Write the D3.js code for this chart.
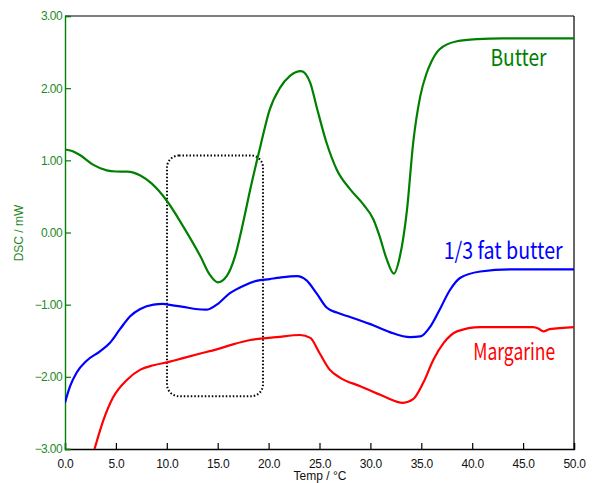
<!DOCTYPE html>
<html><head><meta charset="utf-8">
<script src="https://cdn.jsdelivr.net/npm/d3@7/dist/d3.min.js"></script>
<style>
html,body{margin:0;padding:0;background:#fff;}
svg{display:block;}
</style></head>
<body>
<svg id="chart" width="592" height="483"></svg>
<script>
const xTicks = [0,5,10,15,20,25,30,35,40,45,50];
const yTicks = [-3,-2,-1,0,1,2,3];

const butter = [[0,1.15],[0.7,1.13],[1.5,1.07],[2.75,0.94],[4.1,0.86],[5,0.845],[6.1,0.843],[7.4,0.79],[8.5,0.68],[10,0.44],[11.5,0.11],[13.3,-0.33],[14.2,-0.58],[15.0,-0.69],[15.9,-0.6],[16.7,-0.33],[17.5,0.14],[18.2,0.6],[19.2,1.2],[20.1,1.7],[21.1,2.0],[22.1,2.17],[23.2,2.235],[24.1,2.07],[24.7,1.75],[25.7,1.24],[26.7,0.87],[28.0,0.6],[29.3,0.39],[30.3,0.18],[30.9,-0.05],[31.6,-0.37],[32.3,-0.57],[32.9,-0.33],[33.6,0.32],[34.2,1.24],[34.9,1.89],[35.5,2.2],[36.0,2.37],[36.8,2.54],[38.5,2.65],[40.5,2.68],[43,2.69],[50,2.69]];

const fatButter = [[0,-2.36],[0.5,-2.13],[1.15,-1.94],[2.1,-1.78],[3.4,-1.65],[4.4,-1.53],[5.4,-1.34],[6.4,-1.16],[7.4,-1.06],[8.7,-1.0],[9.6,-0.99],[10.6,-1.01],[11.6,-1.03],[12.8,-1.06],[13.9,-1.07],[14.9,-1.0],[16.2,-0.84],[17.5,-0.74],[18.8,-0.67],[20.1,-0.645],[21.1,-0.625],[22.8,-0.605],[23.7,-0.66],[24.7,-0.84],[25.7,-1.04],[26.7,-1.11],[28,-1.17],[30,-1.27],[31.9,-1.38],[33.9,-1.45],[34.9,-1.44],[35.9,-1.30],[36.8,-1.07],[37.8,-0.80],[38.8,-0.63],[40.8,-0.54],[43.7,-0.51],[50,-0.51]];

const margarine = [[2.9,-3.0],[3.8,-2.59],[4.7,-2.29],[6.1,-2.04],[7.4,-1.90],[8.7,-1.84],[10.3,-1.79],[11.6,-1.74],[13.2,-1.68],[14.9,-1.62],[16.5,-1.55],[18.2,-1.49],[20.8,-1.45],[23.1,-1.42],[24.1,-1.46],[25,-1.67],[26,-1.90],[27,-2.01],[29,-2.13],[31.3,-2.27],[33.2,-2.36],[34.2,-2.31],[35.2,-2.08],[36.2,-1.76],[37.2,-1.53],[38.5,-1.37],[40.8,-1.31],[46.0,-1.31],[46.5,-1.33],[47.0,-1.37],[47.6,-1.34],[50,-1.31]];

const seriesNames = ["Butter","1/3 fat butter","Margarine"];
const seriesColors = ["#008000","#0000ff","#ff0000"];
// label anchor positions in data units [temp, value]
const labelPos = [[41.8,2.31],[37.2,-0.37],[40.1,-1.76]];
const labelWidths = [56,119,82];
// dotted annotation box in data units: [t0, t1, v0, v1]
const boxExtent = [10.02, 19.45, 1.067, -2.27];

const svg = d3.select("#chart");
const L=65, R=574, T=16, B=449;
const x = d3.scaleLinear().domain([0,50]).range([L,R]);
const y = d3.scaleLinear().domain([-3,3]).range([B,T]);

svg.append("defs").append("clipPath").attr("id","clip")
  .append("rect").attr("x",L).attr("y",T).attr("width",R-L).attr("height",B-T);

// frame top and right
svg.append("line").attr("x1",L).attr("x2",R).attr("y1",T).attr("y2",T).attr("stroke","#000").attr("stroke-width",1.2);
svg.append("line").attr("x1",R).attr("x2",R).attr("y1",T).attr("y2",B).attr("stroke","#000").attr("stroke-width",1.2);

// x axis
const gx = svg.append("g").attr("transform",`translate(0,${B})`)
  .call(d3.axisBottom(x).tickValues(xTicks).tickFormat(d3.format(".1f")).tickSize(-6).tickPadding(10));
gx.select(".domain").attr("stroke","#000").attr("stroke-width",1.4);
gx.selectAll(".tick line").attr("stroke","#000").attr("stroke-width",1.2);
gx.selectAll(".tick text").attr("font-family","'Liberation Sans', Arial, sans-serif").attr("font-size",12).attr("fill","#111").attr("letter-spacing","-0.3");

// y axis
const gy = svg.append("g").attr("transform",`translate(${L},0)`)
  .call(d3.axisLeft(y).tickValues(yTicks).tickFormat(d3.format(".2f")).tickSize(-6).tickPadding(3));
gy.select(".domain").attr("stroke","#008000").attr("stroke-width",1.4);
gy.selectAll(".tick line").attr("stroke","#008000").attr("stroke-width",1.2);
gy.selectAll(".tick text").attr("font-family","'Liberation Sans', Arial, sans-serif").attr("font-size",12).attr("fill","#1f8a1f").attr("letter-spacing","-0.6");

// axis titles
svg.append("text").attr("x",320).attr("y",480).attr("text-anchor","middle")
  .attr("font-family","'Liberation Sans', Arial, sans-serif").attr("font-size",12).attr("fill","#111").text("Temp / °C");
svg.append("text").attr("transform","translate(23,233) rotate(-90)").attr("text-anchor","middle")
  .attr("font-family","'Liberation Sans', Arial, sans-serif").attr("font-size",12).attr("fill","#1f8a1f").text("DSC / mW");

// annotation box
svg.append("rect")
  .attr("x",x(boxExtent[0])).attr("y",y(boxExtent[2]))
  .attr("width",x(boxExtent[1])-x(boxExtent[0])).attr("height",y(boxExtent[3])-y(boxExtent[2]))
  .attr("rx",12).attr("ry",12).attr("fill","none").attr("stroke","#000")
  .attr("stroke-width",2).attr("stroke-dasharray","1.5 2");

// lines
const line = d3.line().x(d=>x(d[0])).y(d=>y(d[1])).curve(d3.curveMonotoneX);
const gl = svg.append("g").attr("clip-path","url(#clip)");
[butter,fatButter,margarine].forEach((s,i)=>{
  gl.append("path").datum(s).attr("d",line).attr("fill","none")
    .attr("stroke",seriesColors[i]).attr("stroke-width",2.2).attr("stroke-linejoin","round");
});

// labels
seriesNames.forEach((n,i)=>{
  svg.append("text").attr("x",x(labelPos[i][0])).attr("y",y(labelPos[i][1]))
    .attr("font-family","'Noto Sans CJK JP', 'Noto Sans', sans-serif").attr("font-size",23)
    .attr("fill",seriesColors[i]).attr("textLength",labelWidths[i]).attr("lengthAdjust","spacingAndGlyphs")
    .text(n);
});
</script>
</body></html>
